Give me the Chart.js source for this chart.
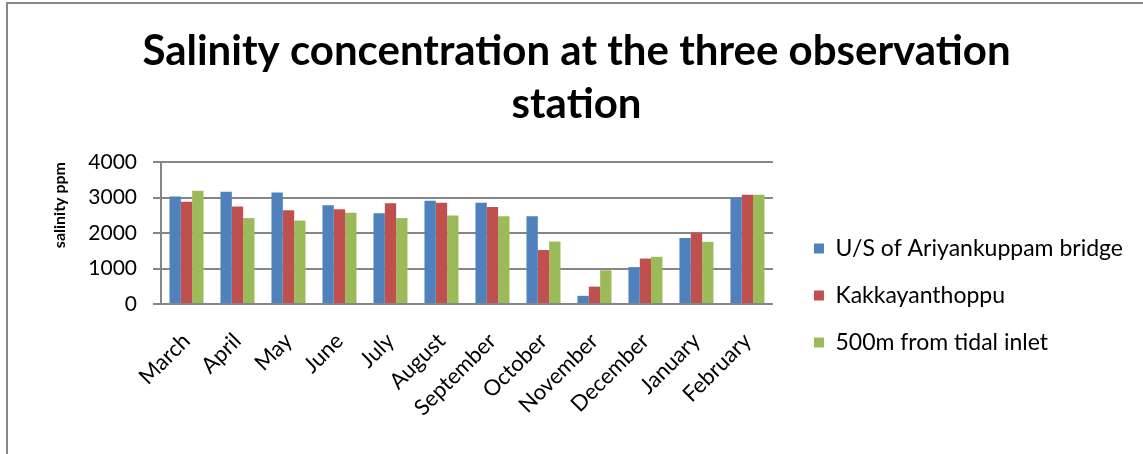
<!DOCTYPE html>
<html>
<head>
<meta charset="utf-8">
<title>Salinity concentration</title>
<script src="https://cdn.jsdelivr.net/npm/chart.js@4/dist/chart.umd.min.js"></script>
<style>
    html, body { margin: 0; padding: 0; background: #fff; overflow: hidden; }
    #frame {
        position: absolute; left: 6px; top: 2px;
        width: 1160px; height: 480px;
        border: 2px solid #878787;
    }
    #salinityChart { position: absolute; left: 0; top: 0; }
</style>
</head>
<body>
<div id="frame"></div>
<canvas id="salinityChart" width="1143" height="454"></canvas>
<script>
var months = ['March', 'April', 'May', 'June', 'July', 'August', 'September',
    'October', 'November', 'December', 'January', 'February'];

// salinity in ppm at each station
var ariyankuppam = [3030, 3160, 3140, 2780, 2560, 2910, 2850, 2470, 230, 1040, 1860, 3000];
var kakkayanthoppu = [2880, 2750, 2640, 2670, 2840, 2850, 2730, 1520, 490, 1280, 2010, 3080];
var tidalInlet = [3190, 2420, 2350, 2570, 2420, 2490, 2470, 1760, 950, 1330, 1750, 3080];

var yTicks = [0, 1000, 2000, 3000, 4000];

var axisGrey = '#868686';

function buildChart() {
    var ctx = document.getElementById('salinityChart');

    var data = {
        labels: months,
        datasets: [{
            label: 'U/S of Ariyankuppam bridge',
            data: ariyankuppam,
            backgroundColor: '#4F81BD'
        }, {
            label: 'Kakkayanthoppu',
            data: kakkayanthoppu,
            backgroundColor: '#C0504D'
        }, {
            label: '500m from tidal inlet',
            data: tidalInlet,
            backgroundColor: '#9BBB59'
        }]
    };

    var options = {
        responsive: false,
        animation: false,
        layout: {
            padding: { left: 20, right: 10, top: 0, bottom: 0 }
        },
        datasets: {
            bar: { barPercentage: 1, categoryPercentage: 0.667 }
        },
        plugins: {
            title: {
                display: true,
                text: ['Salinity concentration at the three observation', 'station'],
                color: '#000',
                font: { family: 'Lato', weight: 'bold', size: 42, lineHeight: 1.262 },
                padding: { top: 25, bottom: 31 }
            },
            legend: {
                position: 'right',
                align: 'start',
                maxWidth: 400,
                // empty title pushes the entries down beside the plot
                title: {
                    display: true,
                    text: '',
                    font: { size: 10, lineHeight: 1 },
                    padding: { top: 203, bottom: 0 }
                },
                labels: {
                    color: '#000',
                    boxWidth: 10,
                    boxHeight: 10,
                    padding: 24,
                    font: { family: 'Lato', size: 23 }
                }
            },
            tooltip: { enabled: false }
        },
        scales: {
            x: {
                grid: { display: false },
                border: { color: axisGrey, width: 2 },
                ticks: {
                    color: '#000',
                    maxRotation: 45,
                    minRotation: 45,
                    padding: 16,
                    font: { family: 'Lato', size: 22 }
                },
                afterFit: function (axis) { axis.height = 150; }
            },
            y: {
                min: 0,
                max: 4000,
                afterBuildTicks: function (axis) {
                    axis.ticks = yTicks.map(function (v) { return { value: v }; });
                },
                grid: { color: axisGrey, lineWidth: 2, tickLength: 8 },
                border: { color: axisGrey, width: 2 },
                ticks: {
                    color: '#000',
                    padding: 16,
                    font: { family: 'Lato', size: 21 },
                    callback: function (value) { return String(value); }
                },
                title: {
                    display: true,
                    align: 'end',
                    text: 'salinity ppm',
                    color: '#000',
                    font: { family: 'Lato', weight: 'bold', size: 16 },
                    padding: { top: 30, bottom: 0 }
                },
                afterFit: function (axis) { axis.width = 141; }
            },
            // keeps a gap between the plot and the legend
            gap: {
                type: 'linear',
                position: 'right',
                display: true,
                grid: { display: false, drawTicks: false },
                border: { display: false },
                ticks: { display: false },
                afterFit: function (axis) { axis.width = 17; }
            }
        }
    };

    new Chart(ctx, { type: 'bar', data: data, options: options });
}

document.fonts.load('bold 42px Lato').then(function () {
    return document.fonts.load('22px Lato');
}).then(buildChart, buildChart);
</script>
</body>
</html>
